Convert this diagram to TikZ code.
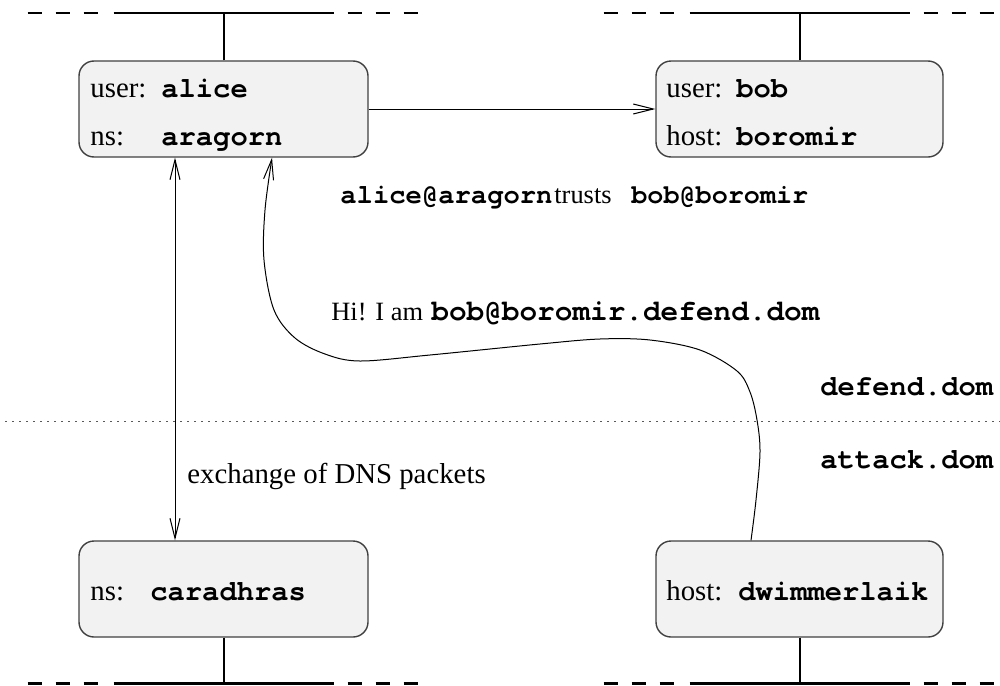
\documentclass[tikz,border=0pt]{standalone}
\usepackage{fontspec}
\setmainfont{Liberation Serif}
\setmonofont{texgyrecursor-regular.otf}[BoldFont=texgyrecursor-bold.otf]
\usetikzlibrary{arrows.meta}
\newcommand\mtt[1]{{\ttfamily\bfseries #1}}
\begin{document}
\begin{tikzpicture}[x=0.5pt,y=-0.5pt,
  >={Straight Barb[length=10pt,width=5pt]},
  box/.style={draw=black!75, fill=black!5, rounded corners=7.5pt, line width=0.7pt,
    minimum width=144pt, minimum height=48pt, inner sep=0pt},
  lbl/.style={anchor=base west, inner sep=0pt, font=\fontsize{14.4}{17}\selectfont},
  bus/.style={line width=1.3pt},
  busd/.style={line width=1.3pt, dash pattern=on 7pt off 7pt},
  stub/.style={line width=1pt},
  arr/.style={line width=0.5pt},
  sep/.style={draw=black!65, line width=0.5pt, dash pattern=on 1pt off 2.5pt}]
\useasboundingbox (0,0) rectangle (1000,685);

% boxes
\node[box, minimum width=144.5pt] (alice) at (223.5,109) {};
\node[box, minimum width=143.5pt] (bob) at (799.5,109) {};
\node[box, minimum width=144.5pt] (cara) at (223.5,589) {};
\node[box, minimum width=143.5pt] (dwim) at (799.5,589) {};

% buses
\foreach \n/\x/\y in {b1/223.5/13, b2/799.5/13, b3/223.5/683.5, b4/799.5/683.5}{
  \coordinate (\n) at (\x,\y);
  \draw[bus] ([xshift=-55pt]\n) -- ([xshift=55pt]\n);
  \draw[busd] ([xshift=-98pt]\n) -- ([xshift=-62pt]\n);
  \draw[busd] ([xshift=62pt]\n) -- ([xshift=98pt]\n);
}
\draw[stub] (alice.north) -- (b1);
\draw[stub] (bob.north) -- (b2);
\draw[stub] (cara.south) -- (b3);
\draw[stub] (dwim.south) -- (b4);

% separator
\draw[sep] (5,421) -- (1000,421);

% connectors
\draw[arr,->] (alice.east) -- (bob.west);
\draw[arr,<->] ([xshift=-24.25pt]alice.south) -- ([xshift=-24.25pt]cara.north);
\draw[arr,->] plot[smooth, tension=0.55] coordinates {([xshift=-24.25pt]dwim.north)
  (756,500) (760,452) (757,420) (750,392) (737,371) (700,350) (650,340) (600,339)
  (540,344) (430,355) (360,361) (325,354) (295,338) (274,310) (264,260)
  (265,210) ([xshift=24.25pt]alice.south)};

% labels
\node[lbl] (l1) at (90,97) {user:};
\node[lbl] (l2) at (161,97) {\mtt{alice}};
\node[lbl] (l3) at (90,145) {ns:};
\node[lbl] (l4) at (161,145) {\mtt{aragorn}};
\node[lbl] (l5) at (666,97) {user:};
\node[lbl] (l6) at (736,97) {\mtt{bob}};
\node[lbl] (l7) at (666,145) {host:};
\node[lbl] (l8) at (736,145) {\mtt{boromir}};
\node[lbl] (l9) at (90,600) {ns:};
\node[lbl] (l10) at (150,600) {\mtt{caradhras}};
\node[lbl] (l11) at (666,600) {host:};
\node[lbl] (l12) at (738,600) {\mtt{dwimmerlaik}};
\node[lbl, font=\fontsize{13.6}{16}\selectfont] (t1) at (340,203) {\mtt{alice@aragorn}};
\node[lbl, font=\fontsize{13.2}{16}\selectfont] (t2) at (554,203) {trusts};
\node[lbl, font=\fontsize{13.4}{16}\selectfont] (t3) at (631,203) {\mtt{bob@boromir}};
\node[lbl, font=\fontsize{13.2}{16}\selectfont] (h1) at (331,320) {Hi! I am};
\node[lbl, font=\fontsize{14.7}{17}\selectfont] (h2) at (431,320) {\mtt{bob@boromir.defend.dom}};
\node[lbl] (d1) at (820,395) {\mtt{defend.dom}};
\node[lbl] (d2) at (820,468) {\mtt{attack.dom}};
\node[lbl] (e1) at (187,483) {exchange of DNS packets};
\end{tikzpicture}
\end{document}
